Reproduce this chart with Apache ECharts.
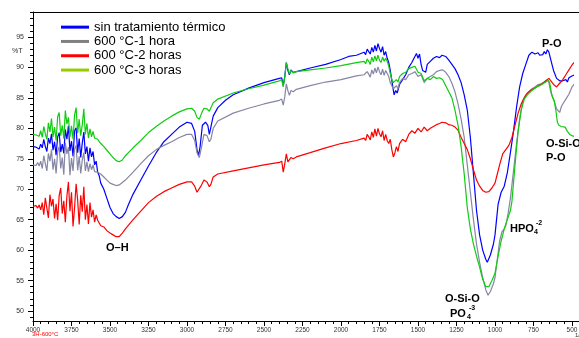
<!DOCTYPE html>
<html>
<head>
<meta charset="utf-8">
<script src="https://cdn.jsdelivr.net/npm/echarts@6/dist/echarts.min.js"></script>
<style>html,body{margin:0;padding:0;background:#fff}#c{width:579px;height:338px}</style>
</head>
<body>
<div id="c"></div>
<script>
const seriesNames = ['sin tratamiento térmico', '600 °C-1 hora', '600 °C-2 horas', '600 °C-3 horas'];
const xTickLabels = [4000, 3750, 3500, 3250, 3000, 2750, 2500, 2250, 2000, 1750, 1500, 1250, 1000, 750, 500];
const yTickLabels = [50, 55, 60, 65, 70, 75, 80, 85, 90, 95];

const blue = [
[4000,77.0],[3990,77.3],[3980,76.9],[3970,77.1],[3960,76.6],[3950,77.4],[3940,76.8],[3930,78.2],[3920,77.0],[3910,76.2],
[3900,78.4],[3890,77.5],[3880,79.1],[3870,76.4],[3860,77.8],[3850,75.6],[3840,78.6],[3830,79.3],[3820,76.1],[3810,77.4],
[3800,75.9],[3790,79.8],[3780,78.2],[3770,80.4],[3760,76.3],[3750,77.9],[3740,75.4],[3730,79.6],[3720,80.1],[3710,76.0],
[3700,78.3],[3690,75.2],[3680,77.6],[3670,79.4],[3660,75.8],[3650,77.0],[3640,74.6],[3630,76.8],[3620,75.3],[3610,76.2],
[3600,74.0],[3590,74.6],[3580,72.8],[3570,72.2],[3560,71.0],[3540,70.0],[3520,68.5],[3500,67.0],[3480,66.0],[3460,65.5],
[3440,65.2],[3420,65.5],[3400,66.2],[3380,67.5],[3350,69.2],[3300,71.5],[3250,73.8],[3200,76.0],[3150,77.8],[3100,79.0],
[3050,80.2],[3000,81.0],[2970,80.8],[2950,79.5],[2935,76.5],[2925,75.5],[2915,77.0],[2900,80.5],[2880,81.0],[2865,80.5],
[2855,79.0],[2845,80.2],[2830,82.0],[2800,83.4],[2750,84.6],[2700,85.5],[2600,86.6],[2500,87.5],[2400,88.2],[2385,88.3],
[2375,87.0],[2365,88.5],[2355,90.8],[2345,89.5],[2335,88.8],[2325,89.6],[2310,89.2],[2290,89.3],[2200,89.9],[2100,90.5],
[2000,91.3],[1950,91.8],[1900,92.0],[1850,92.5],[1840,92.1],[1830,93.0],[1820,92.6],[1810,92.2],[1800,93.3],[1790,92.5],
[1780,93.6],[1770,92.7],[1760,93.9],[1750,93.1],[1740,92.5],[1730,93.4],[1720,92.0],[1710,92.6],[1700,91.5],[1690,90.8],
[1680,89.5],[1665,87.0],[1655,85.5],[1645,86.2],[1635,85.8],[1620,87.2],[1600,88.0],[1580,88.8],[1560,90.0],[1540,90.8],
[1520,91.8],[1510,92.3],[1500,91.5],[1490,92.2],[1480,90.5],[1470,89.5],[1460,89.8],[1450,89.2],[1440,90.5],[1420,91.0],
[1400,91.5],[1380,91.8],[1360,91.6],[1344,92.0],[1320,91.8],[1300,91.2],[1280,90.5],[1260,89.8],[1240,88.8],[1220,87.5],
[1200,85.5],[1180,83.0],[1160,78.5],[1140,72.5],[1120,66.5],[1100,62.5],[1080,60.0],[1060,58.5],[1050,58.0],[1040,58.3],
[1030,59.2],[1010,61.0],[1000,62.5],[990,65.0],[980,67.5],[960,69.5],[940,70.5],[920,72.7],[900,76.0],[880,79.5],
[860,83.5],[840,86.8],[820,89.0],[800,90.5],[780,92.0],[760,92.5],[740,92.2],[720,92.4],[710,92.0],[700,92.3],
[690,92.1],[680,92.6],[670,92.2],[660,92.9],[650,92.5],[640,91.5],[630,90.5],[620,89.5],[600,88.2],[580,87.8],
[560,87.8],[540,88.0],[530,87.6],[520,88.3],[510,88.0],[500,88.6],[480,88.8],[460,89.0]
];

const gray = [
[4000,74.0],[3990,74.3],[3980,73.9],[3970,74.4],[3960,73.8],[3950,74.6],[3940,73.4],[3930,75.5],[3920,74.2],[3910,73.0],
[3900,75.9],[3890,74.6],[3880,76.5],[3870,73.2],[3860,75.0],[3850,72.6],[3840,76.2],[3830,77.0],[3820,73.4],[3810,75.2],
[3800,72.4],[3790,77.6],[3780,75.8],[3770,76.9],[3760,72.3],[3750,75.1],[3740,73.0],[3730,76.6],[3720,77.2],[3710,73.1],
[3700,75.4],[3690,72.6],[3680,74.8],[3670,76.0],[3660,73.0],[3650,74.5],[3640,72.9],[3630,74.2],[3620,73.2],[3610,74.0],
[3600,72.9],[3580,72.8],[3560,72.5],[3540,72.0],[3520,71.5],[3500,71.0],[3480,70.8],[3460,70.6],[3440,70.7],[3400,71.5],
[3350,72.8],[3300,74.2],[3250,75.5],[3200,76.5],[3150,77.2],[3100,77.8],[3050,78.5],[3000,79.0],[2970,79.0],[2950,78.0],
[2935,76.0],[2920,75.2],[2905,77.0],[2890,79.0],[2870,78.8],[2855,77.8],[2845,78.2],[2830,80.0],[2800,81.2],[2700,82.5],
[2600,83.3],[2500,84.0],[2400,84.6],[2385,84.8],[2375,83.8],[2365,85.2],[2355,87.3],[2345,86.2],[2335,85.4],[2325,86.2],
[2310,86.0],[2290,86.4],[2200,87.0],[2100,87.6],[2000,88.0],[1900,88.6],[1850,88.8],[1840,88.5],[1830,89.3],[1820,88.9],
[1810,88.4],[1800,89.6],[1790,88.9],[1780,89.9],[1770,89.1],[1760,90.1],[1750,89.3],[1740,88.8],[1730,89.7],[1720,88.7],
[1710,89.5],[1700,89.0],[1690,88.5],[1680,87.5],[1670,87.0],[1660,86.5],[1650,86.2],[1640,87.0],[1630,86.5],[1620,87.5],
[1600,88.2],[1580,88.0],[1560,88.8],[1540,89.0],[1520,89.3],[1500,88.5],[1480,88.8],[1460,87.5],[1440,88.2],[1420,88.5],
[1400,88.8],[1380,89.3],[1360,89.5],[1340,89.6],[1320,89.2],[1300,88.5],[1280,87.4],[1260,86.0],[1240,84.0],[1220,81.5],
[1200,78.5],[1180,74.0],[1160,69.5],[1140,65.0],[1120,61.0],[1100,58.0],[1080,55.5],[1060,53.5],[1045,52.6],[1030,53.2],
[1010,54.5],[1000,55.5],[985,58.5],[970,61.5],[955,63.0],[940,63.5],[930,64.0],[915,66.0],[900,68.5],[880,73.0],
[860,77.5],[840,81.5],[820,84.5],[800,85.5],[780,86.0],[760,86.5],[740,86.8],[720,87.2],[700,87.3],[680,87.6],
[660,88.0],[650,87.5],[640,86.2],[630,85.3],[620,84.8],[610,84.0],[600,83.2],[590,83.0],[580,82.6],[570,83.5],
[560,84.0],[540,84.8],[520,85.6],[500,86.8],[480,87.4],[460,88.0]
];

const red = [
[4000,67.2],[3990,67.0],[3980,67.3],[3970,66.9],[3960,67.4],[3950,66.6],[3940,67.8],[3930,65.8],[3920,68.6],[3910,66.9],
[3900,65.3],[3890,69.1],[3880,67.2],[3870,68.4],[3860,65.2],[3850,67.6],[3840,64.9],[3830,69.0],[3820,70.2],[3810,66.0],
[3800,68.1],[3790,64.6],[3780,68.8],[3770,71.2],[3760,66.4],[3750,69.5],[3740,63.9],[3730,67.0],[3720,70.9],[3710,68.2],
[3700,64.2],[3690,69.0],[3680,66.3],[3670,70.4],[3660,65.0],[3650,67.5],[3640,64.3],[3630,67.8],[3620,65.4],[3610,66.6],
[3600,64.6],[3590,65.8],[3580,64.9],[3560,64.0],[3540,63.8],[3520,63.2],[3500,62.8],[3480,62.5],[3460,62.2],[3440,62.2],
[3420,62.8],[3400,63.5],[3350,65.0],[3300,66.4],[3250,67.8],[3200,68.8],[3150,69.6],[3100,70.2],[3050,70.8],[3000,71.2],
[2970,71.2],[2950,70.5],[2935,69.5],[2925,69.3],[2910,70.5],[2890,71.5],[2870,71.2],[2855,70.4],[2845,70.8],[2830,72.0],
[2800,72.5],[2700,73.0],[2600,73.5],[2500,74.0],[2400,74.4],[2385,74.6],[2375,72.8],[2365,74.2],[2355,75.8],[2345,74.5],
[2335,74.6],[2325,75.2],[2310,75.0],[2290,75.3],[2200,76.0],[2100,76.8],[2000,77.5],[1900,78.0],[1850,78.4],[1840,78.0],
[1830,79.0],[1820,78.6],[1810,78.1],[1800,79.4],[1790,78.5],[1780,79.9],[1770,78.7],[1760,80.0],[1750,79.1],[1740,78.6],
[1730,79.6],[1720,78.0],[1710,79.0],[1700,78.0],[1690,77.5],[1680,78.2],[1670,76.5],[1660,75.3],[1650,76.0],[1640,77.0],
[1630,76.2],[1620,77.5],[1600,78.2],[1580,77.8],[1560,79.0],[1540,79.6],[1520,79.2],[1500,80.0],[1480,79.4],[1460,80.2],
[1440,79.6],[1420,80.0],[1400,80.3],[1380,80.6],[1360,80.8],[1344,81.0],[1320,80.9],[1300,80.6],[1280,80.5],[1260,80.2],
[1240,79.7],[1220,78.5],[1200,77.5],[1180,76.5],[1160,75.0],[1140,73.2],[1120,71.5],[1100,70.5],[1080,69.8],[1060,69.5],
[1050,69.4],[1040,69.6],[1020,70.2],[1000,71.0],[985,72.5],[970,74.0],[950,75.8],[930,76.5],[910,77.2],[890,78.5],
[870,80.5],[850,82.5],[830,84.0],[810,85.0],[790,85.8],[770,86.2],[750,86.5],[730,86.8],[710,87.1],[690,87.4],
[670,87.8],[650,88.2],[640,88.0],[620,87.2],[600,86.8],[580,87.4],[560,88.0],[540,88.8],[520,89.6],[500,90.4],
[480,91.0],[460,91.6]
];

const green = [
[4000,79.0],[3990,79.3],[3980,78.9],[3970,79.2],[3960,78.7],[3950,79.6],[3940,78.5],[3930,80.3],[3920,79.1],[3910,78.2],
[3900,80.9],[3890,79.4],[3880,81.6],[3870,78.6],[3860,80.2],[3850,78.0],[3840,81.9],[3830,82.6],[3820,78.8],[3810,80.5],
[3800,78.3],[3790,82.9],[3780,80.7],[3770,81.8],[3760,78.6],[3750,80.4],[3740,78.2],[3730,82.2],[3720,83.4],[3710,79.2],
[3700,81.5],[3690,78.8],[3680,80.6],[3670,83.2],[3660,79.0],[3650,80.8],[3640,78.4],[3630,79.9],[3620,78.6],[3610,79.5],
[3600,78.4],[3580,78.2],[3560,77.5],[3540,77.0],[3520,76.4],[3500,75.8],[3480,75.2],[3460,74.7],[3440,74.5],[3420,74.8],
[3400,75.5],[3350,76.8],[3300,78.0],[3250,79.3],[3200,80.3],[3150,81.2],[3100,82.0],[3050,82.7],[3000,83.2],[2970,83.3],
[2950,82.8],[2935,81.8],[2920,81.5],[2905,82.5],[2890,83.3],[2870,83.2],[2855,82.8],[2845,83.0],[2830,84.2],[2800,84.8],
[2700,85.8],[2600,86.5],[2500,87.1],[2400,87.8],[2385,88.0],[2375,86.8],[2365,88.5],[2355,90.8],[2345,89.8],[2335,88.9],
[2325,89.5],[2310,89.1],[2290,89.3],[2200,89.6],[2100,89.9],[2000,90.3],[1900,90.8],[1850,91.0],[1840,90.6],[1830,91.4],
[1820,91.0],[1810,90.5],[1800,91.7],[1790,90.9],[1780,91.9],[1770,91.1],[1760,92.0],[1750,91.2],[1740,90.8],[1730,91.7],
[1720,91.0],[1710,91.5],[1700,91.0],[1690,90.2],[1680,89.0],[1670,88.0],[1660,87.5],[1650,87.2],[1640,88.0],[1630,87.6],
[1620,88.5],[1600,89.0],[1580,89.2],[1560,89.8],[1540,90.0],[1520,90.2],[1500,89.2],[1480,89.0],[1460,87.8],[1440,88.2],
[1420,88.0],[1400,88.5],[1380,88.2],[1360,88.3],[1340,88.0],[1320,87.0],[1300,86.0],[1280,85.0],[1260,83.0],[1240,80.5],
[1220,77.0],[1200,72.5],[1180,67.0],[1160,63.5],[1140,61.0],[1120,59.0],[1100,57.2],[1080,55.2],[1060,54.0],[1050,53.8],
[1040,54.0],[1020,55.0],[1000,56.2],[980,59.0],[960,61.5],[940,63.5],[920,65.0],[900,66.5],[890,68.0],[870,74.0],
[850,79.5],[830,83.0],[810,84.8],[790,85.5],[770,86.0],[750,86.4],[730,86.8],[710,87.0],[690,87.3],[670,87.6],
[655,87.9],[645,87.5],[635,86.0],[625,85.0],[615,84.5],[605,83.0],[595,81.0],[585,80.5],[570,80.3],[560,80.0],
[545,80.2],[530,79.5],[515,79.0],[500,78.8],[480,78.6],[460,78.4]
];

const yMinor = [];
for (let v = 49; v <= 99; v += 1) yMinor.push(v);

const lineColors = ['#0000ff', '#8686a6', '#ff0000', '#10cc10'];
const legendColors = ['#0000ff', '#808080', '#ff0000', '#99cc00'];
const dataSets = [blue, gray, red, green];

const chart = echarts.init(document.getElementById('c'), null, {renderer: 'canvas'});
const FONT = '"Liberation Sans", Arial, sans-serif';
const XMIN = 500, XMAX = 4000, YMIN = 48.36, YMAX = 99.1;
const gridRect = {left: 33, right: 7, top: 12, bottom: 17, containLabel: false, outerBoundsMode: 'none'};

const option = {
  animation: false,
  backgroundColor: '#fff',
  grid: [Object.assign({}, gridRect), Object.assign({}, gridRect)],
  legend: {
    orient: 'vertical', left: 61, top: 20, padding: 0, icon: 'rect', itemWidth: 28, itemHeight: 3, itemGap: 0,
    textStyle: {fontFamily: FONT, fontSize: 13, color: '#000', lineHeight: 14.3},
    data: seriesNames.map((n, i) => ({name: n, itemStyle: {color: legendColors[i]}}))
  },
  xAxis: [
    {
      type: 'value', inverse: true, min: XMIN, max: XMAX, interval: 250, gridIndex: 0, position: 'bottom',
      splitLine: {show: false},
      axisLine: {show: true, lineStyle: {color: '#000', width: 1}},
      axisTick: {show: true, length: 5, lineStyle: {color: '#000'}},
      minorTick: {show: true, splitNumber: 5, length: 3, lineStyle: {color: '#000'}},
      axisLabel: {show: true, fontFamily: FONT, fontSize: 6.5, color: '#333', margin: 6,
        formatter: v => String(v)}
    },
    {
      type: 'value', inverse: true, min: XMIN, max: XMAX, gridIndex: 1, position: 'bottom', show: false
    }
  ],
  yAxis: [
    {
      type: 'value', min: YMIN, max: YMAX, gridIndex: 0, position: 'left',
      splitLine: {show: false},
      axisLine: {show: true, lineStyle: {color: '#000', width: 1}},
      axisTick: {show: true, customValues: yTickLabels, length: 5, lineStyle: {color: '#000'}},
      axisLabel: {show: true, customValues: yTickLabels, fontFamily: FONT, fontSize: 7, color: '#333', margin: 9,
        formatter: v => String(v)}
    },
    {
      type: 'value', min: YMIN, max: YMAX, gridIndex: 1, position: 'left',
      splitLine: {show: false},
      axisLine: {show: false},
      axisTick: {show: true, customValues: yMinor, length: 3, lineStyle: {color: '#000'}},
      axisLabel: {show: false}
    }
  ],
  series: dataSets.map((d, i) => ({
    name: seriesNames[i], type: 'line', data: d, xAxisIndex: 0, yAxisIndex: 0,
    showSymbol: false, symbol: 'none', smooth: false,
    lineStyle: {color: lineColors[i], width: 1.2}, itemStyle: {color: lineColors[i]},
    clip: false, z: 2 + i
  })),
  graphic: [
    {type: 'line', shape: {x1: 33, y1: 12.5, x2: 579, y2: 12.5}, style: {stroke: '#000', lineWidth: 1}, silent: true},
    {type: 'line', shape: {x1: 572, y1: 321.5, x2: 579, y2: 321.5}, style: {stroke: '#000', lineWidth: 1}, silent: true},
    {type: 'text', left: 12, top: 48, style: {text: '%T', font: '7px ' + FONT, fill: '#333'}},
    {type: 'text', left: 32, top: 331, style: {text: '3H-600°C', font: '6px ' + FONT, fill: '#ff0000'}},
    {type: 'text', left: 575, top: 332, style: {text: '1/cm', font: '6px ' + FONT, fill: '#333'}},
    {type: 'text', x: 106, y: 242, style: {text: 'O–H', font: 'bold 11px ' + FONT, fill: '#000'}},
    {type: 'text', x: 445, y: 293, style: {text: 'O-Si-O', font: 'bold 11px ' + FONT, fill: '#000'}},
    {type: 'text', x: 450, y: 308, style: {text: 'PO', font: 'bold 11px ' + FONT, fill: '#000'}},
    {type: 'text', x: 467, y: 314, style: {text: '4', font: 'bold 7px ' + FONT, fill: '#000'}},
    {type: 'text', x: 469, y: 305, style: {text: '-3', font: 'bold 7px ' + FONT, fill: '#000'}},
    {type: 'text', x: 510, y: 223, style: {text: 'HPO', font: 'bold 11px ' + FONT, fill: '#000'}},
    {type: 'text', x: 534, y: 229, style: {text: '4', font: 'bold 7px ' + FONT, fill: '#000'}},
    {type: 'text', x: 536, y: 220, style: {text: '-2', font: 'bold 7px ' + FONT, fill: '#000'}},
    {type: 'text', x: 542, y: 38, style: {text: 'P-O', font: 'bold 11px ' + FONT, fill: '#000'}},
    {type: 'text', x: 546, y: 138, style: {text: 'O-Si-O', font: 'bold 11px ' + FONT, fill: '#000'}},
    {type: 'text', x: 546, y: 152, style: {text: 'P-O', font: 'bold 11px ' + FONT, fill: '#000'}}
  ]
};
chart.setOption(option);
</script>
</body>
</html>
